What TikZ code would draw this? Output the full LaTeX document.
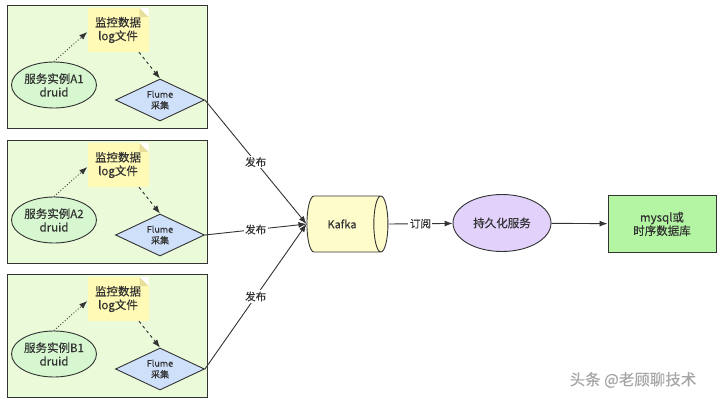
\documentclass[tikz,border=0pt]{standalone}
\usepackage{fontspec}
\setmainfont{Noto Sans CJK SC}[FakeBold=0.3]
\usepackage{xcolor}
\usetikzlibrary{arrows.meta,positioning,shapes.geometric}

\definecolor{edge}{HTML}{333333}
\definecolor{groupfill}{HTML}{EBFAD8}
\definecolor{svcfill}{HTML}{D6F7D0}
\definecolor{notefill}{HTML}{FFFAB5}
\definecolor{notefold}{HTML}{E6DE9A}
\definecolor{flumefill}{HTML}{CFE0FB}
\definecolor{kafkafill}{HTML}{FFFCCC}
\definecolor{persistfill}{HTML}{E1D1FB}
\definecolor{dbfill}{HTML}{B3F5A3}

\begin{document}
\begin{tikzpicture}[x=1pt, y=-1pt, text=edge,
    group/.style={draw=edge, fill=groupfill, line width=0.9pt, minimum width=200pt, minimum height=123pt},
    svc/.style={ellipse, draw=edge, fill=svcfill, line width=0.9pt, minimum width=85pt, minimum height=46pt, inner sep=0pt, align=center, font=\fontsize{11.5}{13.5}\selectfont},
    notebox/.style={fill=notefill, minimum width=61pt, minimum height=44pt, inner sep=0pt, align=center, font=\fontsize{11.5}{13.5}\selectfont,
        path picture={
            \fill[white] ([xshift=-9pt]path picture bounding box.north east) -- (path picture bounding box.north east) -- ([yshift=-9pt]path picture bounding box.north east) -- cycle;
            \fill[notefold] ([xshift=-9pt]path picture bounding box.north east) -- ([yshift=-9pt]path picture bounding box.north east) -- ([xshift=-9pt,yshift=-9pt]path picture bounding box.north east) -- cycle;}},
    flume/.style={diamond, draw=edge, fill=flumefill, line width=0.9pt, minimum width=89pt, minimum height=42pt, inner sep=0pt, aspect=2.1, align=center, font=\fontsize{9}{11}\selectfont},
    arrow/.style={-{Latex[length=8pt,width=6pt]}, draw=edge, line width=0.9pt},
    lbl/.style={fill=white, inner sep=1.5pt, font=\fontsize{10.5}{12}\selectfont}
]
    \useasboundingbox (0,0) rectangle (720,402);

    \foreach \g/\dy/\name in {1/0/A1, 2/135/A2, 3/269/B1} {
        \node[group] (box\g) at (107,{66.5+\dy}) {};
        \node[svc] (svc\g) at (54,{85+\dy}) {服务实例\name\\druid};
        \node[notebox] (note\g) at (118,{30+\dy}) {监控数据\\log文件};
        \node[flume] (flume\g) at (160,{100+\dy}) {Flume\\采集};
        \draw[arrow, dotted] (svc\g.north) -- (note\g.west |- 0,{32+\dy});
        \draw[arrow, dashed] ([xshift=21pt]note\g.south) -- (flume\g.north);
    }

    \node[cylinder, draw=edge, line width=0.9pt, cylinder uses custom fill, cylinder body fill=kafkafill, cylinder end fill=kafkafill,
          minimum height=81pt, minimum width=56pt, aspect=0.9, font=\fontsize{11}{13}\selectfont] (kafka) at (342,224) {Kafka};
    \node[ellipse, draw=edge, fill=persistfill, line width=0.9pt, minimum width=98pt, minimum height=57pt, inner sep=0pt,
          font=\fontsize{11.5}{13.5}\selectfont] (persist) at (502,223) {持久化服务};
    \node[draw=edge, fill=dbfill, line width=0.9pt, minimum width=108pt, minimum height=57pt, align=center,
          font=\fontsize{11.5}{13.5}\selectfont] (db) at (662,224) {mysql或\\时序数据库};

    \draw[arrow] (flume1.east) -- node[lbl] {发布} (kafka.west);
    \draw[arrow] (flume2.east) -- node[lbl] {发布} (kafka.west);
    \draw[arrow] (flume3.east) -- node[lbl] {发布} (kafka.west);
    \draw[arrow] (kafka.east) -- node[lbl] {订阅} (persist);
    \draw[arrow] (persist) -- (db);

    \node[text=gray!70, font=\fontsize{15.5}{17}\selectfont] (mark) at (633,380) {头条 @老顾聊技术};
\end{tikzpicture}
\end{document}
